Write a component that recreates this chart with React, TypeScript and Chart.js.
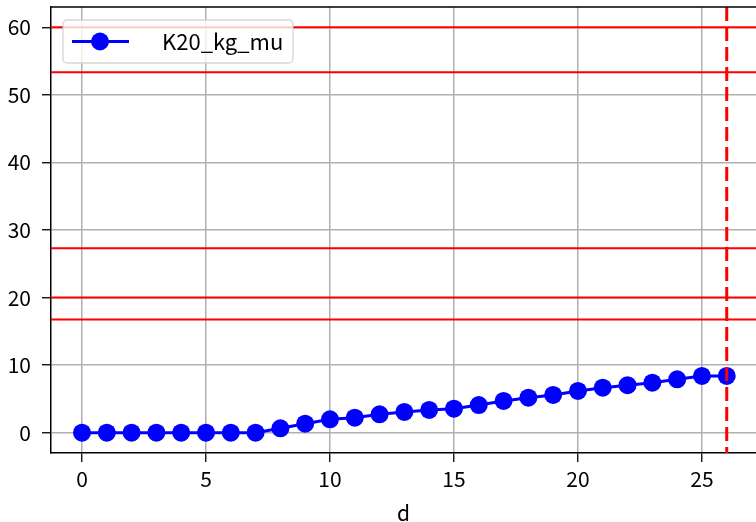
import React, { useEffect, useRef } from "react";
import { Chart, registerables } from "chart.js";

Chart.register(...registerables);

const days = [0, 1, 2, 3, 4, 5, 6, 7, 8, 9, 10, 11, 12, 13, 14, 15, 16, 17, 18, 19, 20, 21, 22, 23, 24, 25, 26];
const k20Values = [0, 0, 0, 0, 0, 0, 0, 0, 0.65, 1.34, 1.98, 2.22, 2.72, 3.07, 3.37, 3.56, 4.1, 4.7, 5.19, 5.59, 6.18, 6.67, 7.03, 7.41, 7.91, 8.4, 8.4];
const seriesLabel = "K20_kg_mu";
const xTitle = "d";
const xTicks = [0, 5, 10, 15, 20, 25];
const yTicks = [0, 10, 20, 30, 40, 50, 60];
const hLines = [60, 53.33, 27.3, 20, 16.75];
const vLine = 26;

const FONT = "'Noto Sans CJK JP', 'DejaVu Sans', sans-serif";

const refLines = {
  id: "refLines",
  afterDatasetsDraw(chart: any) {
    const { ctx, chartArea, scales } = chart;
    ctx.save();
    ctx.beginPath();
    ctx.rect(chartArea.left, chartArea.top, chartArea.right - chartArea.left, chartArea.bottom - chartArea.top);
    ctx.clip();
    ctx.strokeStyle = "#ff0000";
    ctx.lineWidth = 2;
    for (const v of hLines) {
      const y = scales.y.getPixelForValue(v);
      ctx.beginPath();
      ctx.moveTo(chartArea.left, y);
      ctx.lineTo(chartArea.right, y);
      ctx.stroke();
    }
    const x = scales.x.getPixelForValue(vLine);
    ctx.lineWidth = 3;
    ctx.setLineDash([14, 6]);
    ctx.beginPath();
    ctx.moveTo(x, chartArea.top);
    ctx.lineTo(x, chartArea.bottom);
    ctx.stroke();
    ctx.restore();

    // top spine
    ctx.save();
    ctx.strokeStyle = "#000";
    ctx.lineWidth = 1.5;
    ctx.beginPath();
    ctx.moveTo(chartArea.left, chartArea.top);
    ctx.lineTo(chartArea.right, chartArea.top);
    ctx.stroke();
    ctx.restore();
  },
  afterDraw(chart: any) {
    const { ctx, chartArea } = chart;
    const bx = chartArea.left + 12;
    const by = chartArea.top + 13;
    const bw = 230;
    const bh = 43;
    ctx.save();
    ctx.beginPath();
    (ctx as any).roundRect(bx, by, bw, bh, 4);
    ctx.fillStyle = "rgba(255,255,255,0.8)";
    ctx.fill();
    ctx.strokeStyle = "rgba(204,204,204,0.8)";
    ctx.lineWidth = 1.3;
    ctx.stroke();
    const cy = by + bh / 2;
    ctx.strokeStyle = "#0000ff";
    ctx.lineWidth = 3;
    ctx.beginPath();
    ctx.moveTo(bx + 9, cy);
    ctx.lineTo(bx + 66, cy);
    ctx.stroke();
    ctx.fillStyle = "#0000ff";
    ctx.beginPath();
    ctx.arc(bx + 37, cy, 9, 0, Math.PI * 2);
    ctx.fill();
    ctx.fillStyle = "#000";
    ctx.font = `22px ${FONT}`;
    ctx.textBaseline = "middle";
    ctx.textAlign = "left";
    ctx.fillText(seriesLabel, bx + 99, cy);
    ctx.restore();
  },
};

export default function App() {
  const ref = useRef<HTMLCanvasElement | null>(null);
  useEffect(() => {
    if (!ref.current) return;
    const chart = new Chart(ref.current, {
      type: "line",
      data: {
        labels: days,
        datasets: [
          {
            label: seriesLabel,
            data: days.map((d, i) => ({ x: d, y: k20Values[i] })),
            borderColor: "#0000ff",
            backgroundColor: "#0000ff",
            borderWidth: 3,
            pointRadius: 9,
            pointBorderWidth: 0,
            pointBackgroundColor: "#0000ff",
            tension: 0,
            clip: false,
          },
        ],
      },
      plugins: [refLines],
      options: {
        animation: false,
        responsive: false,
        events: [],
        layout: { autoPadding: false, padding: { top: 7, right: 0, left: 0, bottom: 0 } },
        plugins: { legend: { display: false }, tooltip: { enabled: false } },
        scales: {
          x: {
            type: "linear",
            min: -1.25,
            max: 27.18,
            afterBuildTicks: (s: any) => {
              s.ticks = xTicks.map((v) => ({ value: v }));
            },
            afterFit: (s: any) => {
              s.height = 69;
              s.paddingLeft = 0;
              s.paddingRight = 0;
            },
            grid: { color: "#b0b0b0", lineWidth: 1.5, tickColor: "#000", tickLength: 9, tickWidth: 1.3 },
            border: { color: "#000", width: 1.5 },
            ticks: { color: "#000", font: { family: FONT, size: 21 }, padding: 4, maxRotation: 0 },
            title: { display: true, text: xTitle, color: "#000", font: { family: FONT, size: 21, lineHeight: 1 }, padding: { top: 0, bottom: -2 } },
          },
          y: {
            type: "linear",
            min: -3,
            max: 63,
            afterBuildTicks: (s: any) => {
              s.ticks = yTicks.map((v) => ({ value: v }));
            },
            afterFit: (s: any) => {
              s.width = 51;
              s.paddingTop = 0;
              s.paddingBottom = 0;
            },
            grid: { color: "#b0b0b0", lineWidth: 1.5, tickColor: "#000", tickLength: 9, tickWidth: 1.3 },
            border: { color: "#000", width: 1.5 },
            ticks: { color: "#000", font: { family: FONT, size: 21 }, padding: 11 },
          },
        },
      } as any,
    });
    return () => chart.destroy();
  }, []);
  return (
    <div style={{ position: "fixed", left: 0, top: 0, width: 756, height: 522, overflow: "hidden", background: "#fff" }}>
      <canvas ref={ref} width={756} height={522} style={{ display: "block" }} />
    </div>
  );
}
